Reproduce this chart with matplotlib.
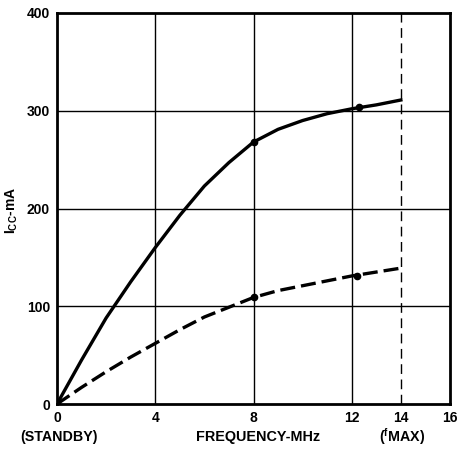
import matplotlib
matplotlib.use("Agg")
import matplotlib.pyplot as plt
import numpy as np

plt.rcParams['font.family'] = ['Liberation Sans', 'DejaVu Sans']
plt.rcParams['mathtext.fontset'] = 'custom'
plt.rcParams['mathtext.rm'] = 'Liberation Sans:bold'
plt.rcParams['mathtext.bf'] = 'Liberation Sans:bold'
plt.rcParams['mathtext.default'] = 'bf'

# Data
freq = [0, 1, 2, 3, 4, 5, 6, 7, 8, 9, 10, 11, 12, 13, 14]
icc_solid = [0, 45, 88, 125, 160, 193, 223, 247, 268, 281, 290, 297, 302, 306, 311]
icc_dashed = [0, 17, 33, 48, 62, 76, 89, 99, 109, 116, 121, 126, 131, 135, 139]
solid_dots_x = [8, 12.3]
solid_dots_y = [268, 304]
dashed_dots_x = [8, 12.2]
dashed_dots_y = [109, 131]
xticks = [0, 4, 8, 12, 14, 16]
yticks = [0, 100, 200, 300, 400]
grid_x = [4, 8, 12]
grid_y = [100, 200, 300]
fmax = 14

fig = plt.figure(figsize=(4.58, 4.51), dpi=100)
ax = fig.add_axes([57/458, 1-404/451, (450-57)/458, (404-13)/451])
ax.set_xlim(0, 16)
ax.set_ylim(0, 400)

for gx in grid_x:
    ax.axvline(gx, color='black', lw=1.0, zorder=1)
for gy in grid_y:
    ax.axhline(gy, color='black', lw=1.0, zorder=1)
ax.axvline(fmax, color='black', lw=1.0, ls=(0, (7, 4)), zorder=1)

ax.plot(freq, icc_solid, color='black', lw=2.4, solid_joinstyle='round', zorder=3)
ax.plot(freq, icc_dashed, color='black', lw=2.4, ls=(0, (4.5, 1.8)), zorder=3)
ax.plot(solid_dots_x, solid_dots_y, 'o', color='black', ms=4.5, zorder=4)
ax.plot(dashed_dots_x, dashed_dots_y, 'o', color='black', ms=4.5, zorder=4)
ax.plot([0], [0], 's', color='black', ms=5, zorder=4)

for s in ax.spines.values():
    s.set_linewidth(2.0)

ax.set_xticks(xticks)
ax.set_yticks(yticks)
ax.tick_params(length=0, pad=5, labelsize=10)
for lab in ax.get_xticklabels() + ax.get_yticklabels():
    lab.set_fontweight('bold')

fig.text(12/458, 1-210/451, r'I$_{CC}$-mA', rotation=90, ha='center', va='center',
         fontsize=10, fontweight='bold')
tr = ax.get_xaxis_transform()
ax.text(0.1, -0.084, '(STANDBY)', transform=tr, ha='center', va='center',
        fontsize=10.3, fontweight='bold')
ax.text(8.2, -0.084, 'FREQUENCY-MHz', transform=tr, ha='center', va='center',
        fontsize=10.4, fontweight='bold')
ax.text(14.05, -0.084, r'($^{f}$MAX)', transform=tr, ha='center', va='center',
        fontsize=10.3, fontweight='bold')

fig.savefig('out.png', dpi=100)
